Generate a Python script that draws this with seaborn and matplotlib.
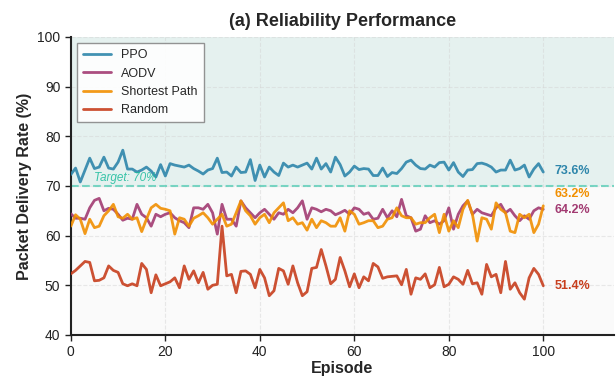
import numpy as np
import pandas as pd
import matplotlib
matplotlib.use("Agg")
import matplotlib.pyplot as plt
import seaborn as sns

episodes = list(range(101))

ppo = [72.3,73.6,70.8,73.2,75.6,73.5,73.8,75.8,73.6,73.4,74.8,77.2,73.4,73.4,72.8,73.2,73.8,73.0,71.8,74.3,
       72.0,74.5,74.2,74.0,73.8,74.2,73.5,73.0,72.4,73.2,73.5,75.6,72.7,72.8,72.0,73.8,72.7,72.8,75.3,71.1,
       74.2,71.8,73.8,72.8,72.1,74.6,73.8,74.2,73.8,74.2,74.6,73.4,75.6,73.4,74.5,72.8,75.8,74.3,72.0,72.8,
       74.0,73.3,73.5,73.4,72.1,72.1,73.6,71.9,72.7,72.5,73.5,74.8,75.2,74.2,73.5,73.4,74.2,73.8,74.7,74.8,
       73.2,74.7,72.8,71.9,73.2,73.3,74.5,74.6,74.3,73.8,72.8,73.2,73.2,75.2,73.2,73.5,74.2,71.8,73.4,74.5,72.8]

aodv = [64.4,63.5,63.5,63.3,65.6,67.1,67.5,65.0,65.5,65.3,64.3,63.1,63.5,63.3,66.3,64.3,63.6,61.9,64.3,63.8,
        64.3,64.6,63.6,63.0,62.6,61.6,65.6,65.6,65.3,66.3,64.6,60.3,66.3,63.3,63.3,61.9,67.0,65.6,64.6,63.6,
        64.6,65.3,64.3,63.3,64.6,64.3,65.3,64.6,65.6,67.0,63.3,65.6,65.3,64.8,65.3,65.0,64.2,64.6,65.1,64.3,
        65.6,65.3,64.3,64.6,63.3,63.5,65.3,63.6,65.0,63.8,67.3,64.0,63.6,60.9,61.3,64.0,62.6,63.0,62.3,63.0,
        65.6,61.3,64.3,66.0,67.0,64.3,65.3,64.6,64.3,64.0,65.6,66.3,64.6,65.3,64.0,63.0,64.0,63.3,65.0,65.6,65.3]

shortest = [61.9,64.2,63.3,60.4,63.3,61.6,61.9,64.0,65.0,66.3,63.8,63.5,64.3,63.3,63.6,60.8,63.3,65.6,66.3,65.5,
            65.3,65.0,60.3,63.6,63.3,61.9,63.5,64.0,64.6,63.6,62.3,63.3,64.3,61.9,62.3,64.6,67.0,65.0,64.0,62.3,
            63.6,64.3,62.6,64.6,65.6,66.6,63.0,63.6,62.3,62.6,61.1,63.3,61.6,63.0,62.6,61.9,61.9,63.6,60.9,65.0,
            64.3,62.3,62.6,63.0,63.0,61.6,61.9,63.3,63.6,65.6,64.0,63.6,63.6,62.3,62.6,62.6,63.6,64.3,60.6,64.3,
            60.9,63.0,61.6,65.3,67.1,64.3,58.9,63.6,63.3,61.3,66.6,65.3,64.6,60.9,60.6,64.3,63.6,64.3,60.6,62.3,66.0]

random_ = [52.3,53.0,53.9,54.8,54.6,50.9,51.0,51.5,53.9,53.0,52.6,50.3,49.9,50.3,49.9,54.4,53.2,48.5,52.1,49.9,
           50.3,50.7,51.5,49.5,53.9,51.2,52.9,50.5,52.6,49.2,50.0,50.2,61.9,51.9,52.2,48.5,52.8,52.9,52.2,49.5,
           53.2,51.5,47.9,48.9,53.4,52.9,50.2,53.9,50.5,47.9,48.7,53.4,53.6,57.2,53.9,50.3,51.2,55.6,52.9,49.7,
           52.3,49.5,51.7,50.9,54.4,53.7,51.4,51.7,51.8,51.9,50.1,53.2,48.2,51.5,51.2,52.3,49.5,50.1,53.6,49.7,
           50.2,51.7,51.2,50.2,53.0,50.3,50.5,48.2,54.2,51.7,52.2,48.5,54.8,49.2,50.5,48.5,47.2,51.5,53.4,52.2,49.9]

methods = ["PPO", "AODV", "Shortest Path", "Random"]
end_labels = ["73.6%", "64.2%", "63.2%", "51.4%"]
colors = ["#2E86AB", "#A23B72", "#F18F01", "#C73E1D"]
target = 70

df = pd.DataFrame({
    "Episode": episodes * 4,
    "PDR": ppo + aodv + shortest + random_,
    "Method": sum([[m] * len(episodes) for m in methods], []),
})

sns.set_style("whitegrid")
plt.rcParams["font.family"] = ["Liberation Sans", "DejaVu Sans"]

fig = plt.figure(figsize=(6.16, 3.85), dpi=100)
ax = fig.add_axes([0.115, 0.130, 0.882, 0.774])
ax.set_facecolor("#fafafa")

ax.axhspan(target, 100, color="#16a085", alpha=0.09, zorder=0, lw=0)

sns.lineplot(data=df, x="Episode", y="PDR", hue="Method", hue_order=methods,
             palette=colors, linewidth=2, alpha=0.9, ax=ax, zorder=3)

ax.axhline(target, color="#48c9b0", linestyle="--", linewidth=1.5, alpha=0.7, zorder=2)
ax.text(5, target + 1.6, "Target: 70%", color="#1abc9c", fontsize=8.5, style="italic",
        alpha=0.85, va="center", ha="left", zorder=4)

series = [ppo, aodv, shortest, random_]
offsets = [0.2, -0.1, 2.4, 0.0]
for s, lab, c, off in zip(series, end_labels, colors, offsets):
    ax.text(102.3, s[-1] + off, lab, color=c, fontsize=9, fontweight="bold", va="center", ha="left")

ax.set_xlim(0, 115)
ax.set_ylim(40, 100)
ax.set_xticks([0, 20, 40, 60, 80, 100])
ax.set_yticks([40, 50, 60, 70, 80, 90, 100])
ax.grid(True, linestyle="--", linewidth=0.8, alpha=0.5, color="#d5d5d5")
ax.tick_params(axis="both", labelsize=10, colors="#222222", length=4, width=1, left=True, bottom=True)
for sp in ["top", "right"]:
    ax.spines[sp].set_visible(False)
for sp in ["left", "bottom"]:
    ax.spines[sp].set_color("#222222")
    ax.spines[sp].set_linewidth(1.5)

ax.set_xlabel("Episode", fontsize=11.5, fontweight="bold", labelpad=1)
ax.set_ylabel("Packet Delivery Rate (%)", fontsize=11.5, fontweight="bold")
ax.set_title("(a) Reliability Performance", fontsize=13, fontweight="bold", pad=8)

leg = ax.legend(loc="upper left", fontsize=9, frameon=True, fancybox=False,
                framealpha=0.9, edgecolor="#888888", borderpad=0.5, handlelength=2.2)
leg.get_frame().set_linewidth(1)

fig.savefig("out.png", dpi=100)
